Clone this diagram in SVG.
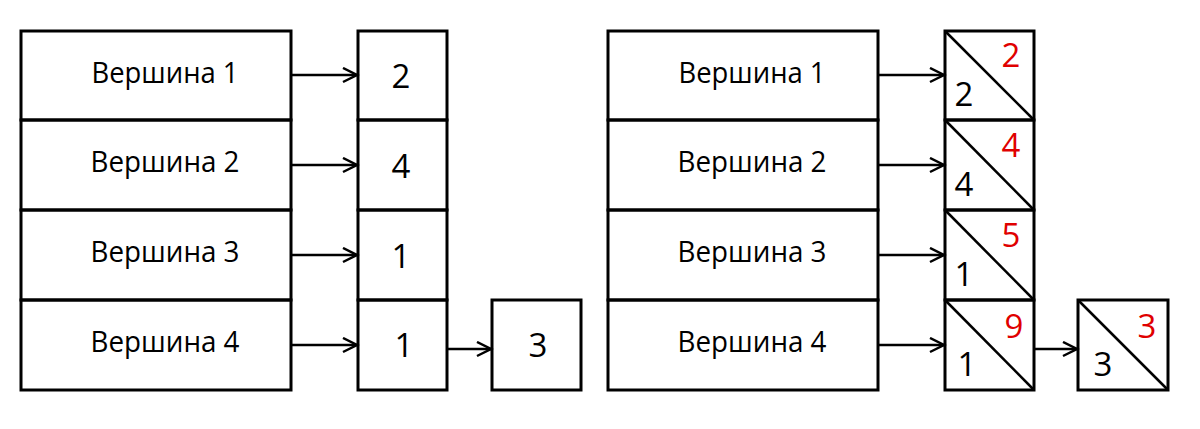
<svg xmlns="http://www.w3.org/2000/svg" width="1200" height="429" viewBox="0 0 1200 429">
<style>
rect,.d{fill:none;stroke:#000;stroke-width:3}
.d{stroke-width:2.5}
.c line{stroke:#000;stroke-width:2.5;marker-end:url(#a)}
.t{font-family:"Open Sans","Noto Sans",sans-serif;font-size:29px;text-anchor:middle;fill:#000}
.n{font-family:"Open Sans","Noto Sans",sans-serif;font-size:33px;text-anchor:middle;fill:#000}
.r{fill:#e00000}
</style>
<defs>
<marker id="a" markerWidth="20" markerHeight="20" refX="15" refY="8" orient="auto" markerUnits="userSpaceOnUse">
<path d="M1,1 L15,8 L1,15" fill="none" stroke="#000" stroke-width="2.5"/>
</marker>
</defs>
<rect x="0" y="0" width="1200" height="429" style="fill:#fff;stroke:none"/>
<g id="left-v1"><rect x="21" y="31" width="270" height="89"/><text class="t" x="165" y="83" textLength="147" lengthAdjust="spacingAndGlyphs">Вершина 1</text></g>
<g id="left-v2"><rect x="21" y="120" width="270" height="90"/><text class="t" x="165" y="172" textLength="149" lengthAdjust="spacingAndGlyphs">Вершина 2</text></g>
<g id="left-v3"><rect x="21" y="210" width="270" height="90"/><text class="t" x="165" y="262" textLength="149" lengthAdjust="spacingAndGlyphs">Вершина 3</text></g>
<g id="left-v4"><rect x="21" y="300" width="270" height="90"/><text class="t" x="165" y="352" textLength="149" lengthAdjust="spacingAndGlyphs">Вершина 4</text></g>
<g id="left-b1"><rect x="358" y="31" width="89" height="89"/><text class="n" x="401" y="88">2</text></g>
<g id="left-b2"><rect x="358" y="120" width="89" height="90"/><text class="n" x="401" y="178">4</text></g>
<g id="left-b3"><rect x="358" y="210" width="89" height="90"/><text class="n" x="401" y="268">1</text></g>
<g id="left-b4"><rect x="358" y="300" width="89" height="90"/><text class="n" x="404" y="357">1</text></g>
<g id="left-b5"><rect x="492" y="300" width="89" height="90"/><text class="n" x="538" y="357">3</text></g>
<g id="right-v1"><rect x="608" y="31" width="270" height="89"/><text class="t" x="752" y="83" textLength="147" lengthAdjust="spacingAndGlyphs">Вершина 1</text></g>
<g id="right-v2"><rect x="608" y="120" width="270" height="90"/><text class="t" x="752" y="172" textLength="149" lengthAdjust="spacingAndGlyphs">Вершина 2</text></g>
<g id="right-v3"><rect x="608" y="210" width="270" height="90"/><text class="t" x="752" y="262" textLength="149" lengthAdjust="spacingAndGlyphs">Вершина 3</text></g>
<g id="right-v4"><rect x="608" y="300" width="270" height="90"/><text class="t" x="752" y="352" textLength="149" lengthAdjust="spacingAndGlyphs">Вершина 4</text></g>
<g id="right-b1"><rect x="945" y="31" width="89" height="89"/><line class="d" x1="945" y1="31" x2="1034" y2="120"/><text class="n" x="964" y="106">2</text><text class="n r" x="1011" y="67">2</text></g>
<g id="right-b2"><rect x="945" y="120" width="89" height="90"/><line class="d" x1="945" y1="120" x2="1034" y2="210"/><text class="n" x="964" y="196">4</text><text class="n r" x="1011" y="157">4</text></g>
<g id="right-b3"><rect x="945" y="210" width="89" height="90"/><line class="d" x1="945" y1="210" x2="1034" y2="300"/><text class="n" x="964" y="286">1</text><text class="n r" x="1011" y="247">5</text></g>
<g id="right-b4"><rect x="945" y="300" width="89" height="90"/><line class="d" x1="945" y1="300" x2="1034" y2="390"/><text class="n" x="967" y="376">1</text><text class="n r" x="1014" y="338">9</text></g>
<g id="right-b5"><rect x="1078" y="300" width="90" height="90"/><line class="d" x1="1078" y1="300" x2="1168" y2="390"/><text class="n" x="1103" y="376">3</text><text class="n r" x="1147" y="338">3</text></g>
<g id="connectors" class="c">
<line x1="291" y1="75" x2="357" y2="75"/>
<line x1="291" y1="165" x2="357" y2="165"/>
<line x1="291" y1="255" x2="357" y2="255"/>
<line x1="291" y1="345" x2="357" y2="345"/>
<line x1="447" y1="349" x2="491" y2="349"/>
<line x1="878" y1="75" x2="944" y2="75"/>
<line x1="878" y1="165" x2="944" y2="165"/>
<line x1="878" y1="255" x2="944" y2="255"/>
<line x1="878" y1="345" x2="944" y2="345"/>
<line x1="1034" y1="349" x2="1077" y2="349"/>
</g>
</svg>
